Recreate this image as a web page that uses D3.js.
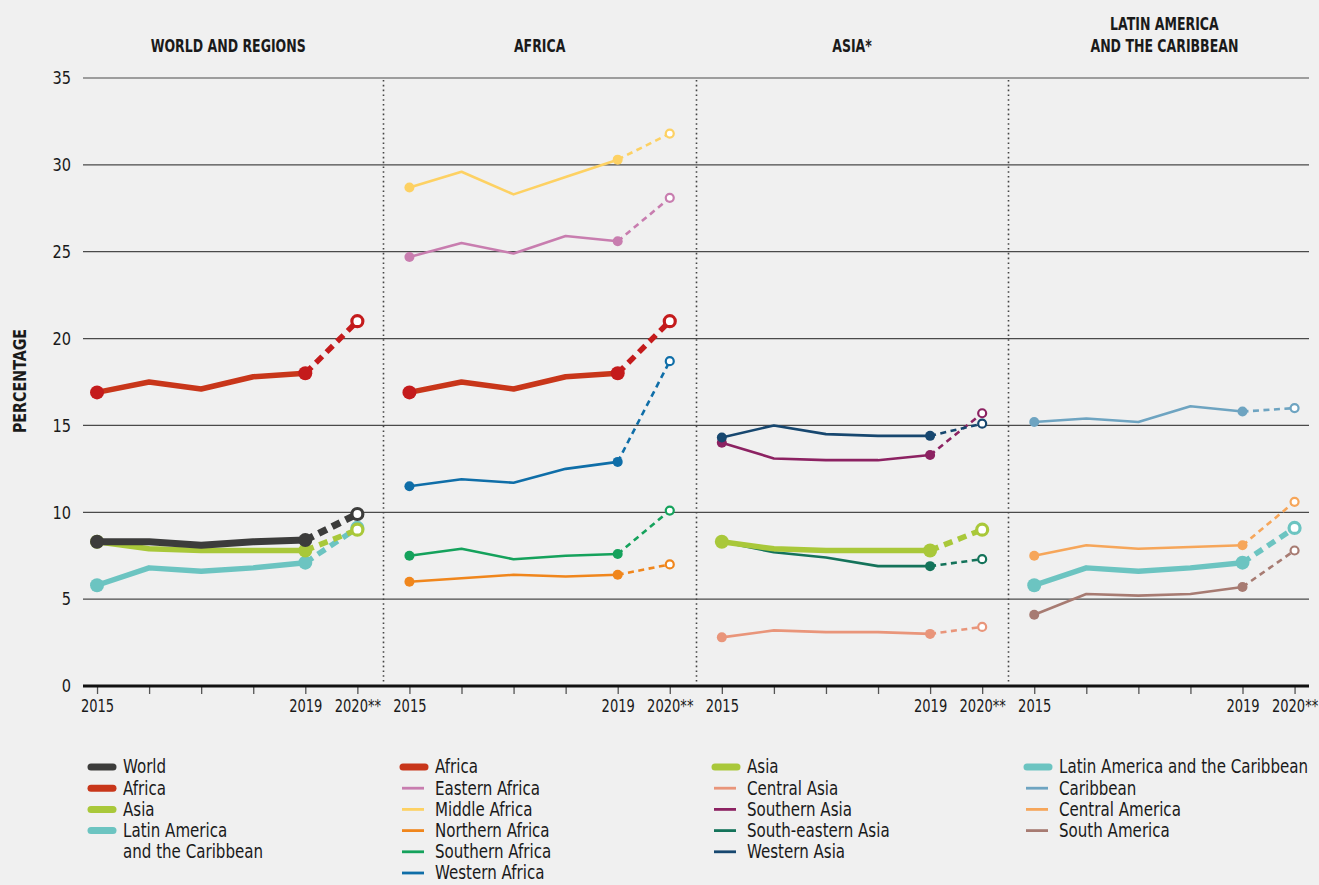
<!DOCTYPE html>
<html><head><meta charset="utf-8">
<script src="https://cdn.jsdelivr.net/npm/d3@7"></script>
<style>
html,body{margin:0;padding:0;background:#f0f0f0;}
svg{display:block;}
text{font-family:"Liberation Sans Narrow","DejaVu Sans Condensed","Arial Narrow",sans-serif;fill:#1a1a1a;}
</style></head>
<body>
<script>
// ---------- DATA ----------
const years = [2015, 2016, 2017, 2018, 2019, 2020];
const xTickLabels = ["2015", "", "", "", "2019", "2020**"];
const yTicks = [0, 5, 10, 15, 20, 25, 30, 35];
const panelTitles = [["WORLD AND REGIONS"], ["AFRICA"], ["ASIA*"], ["LATIN AMERICA", "AND THE CARIBBEAN"]];
const yAxisTitle = "PERCENTAGE";

const world          = [8.3, 8.3, 8.1, 8.3, 8.4, 9.9];
const africa         = [16.9, 17.5, 17.1, 17.8, 18.0, 21.0];
const asia           = [8.3, 7.9, 7.8, 7.8, 7.8, 9.0];
const latinAmerica   = [5.8, 6.8, 6.6, 6.8, 7.1, 9.1];

const easternAfrica  = [24.7, 25.5, 24.9, 25.9, 25.6, 28.1];
const middleAfrica   = [28.7, 29.6, 28.3, 29.3, 30.3, 31.8];
const northernAfrica = [6.0, 6.2, 6.4, 6.3, 6.4, 7.0];
const southernAfrica = [7.5, 7.9, 7.3, 7.5, 7.6, 10.1];
const westernAfrica  = [11.5, 11.9, 11.7, 12.5, 12.9, 18.7];

const centralAsia       = [2.8, 3.2, 3.1, 3.1, 3.0, 3.4];
const southernAsia      = [14.0, 13.1, 13.0, 13.0, 13.3, 15.7];
const southEasternAsia  = [8.3, 7.7, 7.4, 6.9, 6.9, 7.3];
const westernAsia       = [14.3, 15.0, 14.5, 14.4, 14.4, 15.1];

const caribbean      = [15.2, 15.4, 15.2, 16.1, 15.8, 16.0];
const centralAmerica = [7.5, 8.1, 7.9, 8.0, 8.1, 10.6];
const southAmerica   = [4.1, 5.3, 5.2, 5.3, 5.7, 7.8];

// ---------- SERIES TABLE (built from arrays) ----------
const C = {
  world:"#3c3c3b", africaLine:"#c8361a", africaDot:"#c41b1c", asia:"#a9c83a", lac:"#6cc4c1",
  eastAf:"#c87daf", midAf:"#fdd163", northAf:"#f0861c", southAf:"#15a25c", westAf:"#0f6ea8",
  cenAs:"#e9957a", southAs:"#8c2262", seAs:"#14735a", westAs:"#17476f",
  carib:"#6ea4c1", cenAm:"#f6a65a", southAm:"#a77b72"
};
const series = [
  {p:0, v:latinAmerica, line:C.lac, dot:C.lac, thick:true},
  {p:0, v:asia, line:C.asia, dot:C.asia, thick:true},
  {p:0, v:africa, line:C.africaLine, dot:C.africaDot, thick:true},
  {p:0, v:world, line:C.world, dot:C.world, thick:true, heavy:true},
  {p:1, v:middleAfrica, line:C.midAf, dot:C.midAf},
  {p:1, v:easternAfrica, line:C.eastAf, dot:C.eastAf},
  {p:1, v:northernAfrica, line:C.northAf, dot:C.northAf},
  {p:1, v:southernAfrica, line:C.southAf, dot:C.southAf},
  {p:1, v:westernAfrica, line:C.westAf, dot:C.westAf},
  {p:1, v:africa, line:C.africaLine, dot:C.africaDot, thick:true},
  {p:2, v:centralAsia, line:C.cenAs, dot:C.cenAs},
  {p:2, v:southernAsia, line:C.southAs, dot:C.southAs},
  {p:2, v:westernAsia, line:C.westAs, dot:C.westAs},
  {p:2, v:southEasternAsia, line:C.seAs, dot:C.seAs},
  {p:2, v:asia, line:C.asia, dot:C.asia, thick:true},
  {p:3, v:caribbean, line:C.carib, dot:C.carib},
  {p:3, v:centralAmerica, line:C.cenAm, dot:C.cenAm},
  {p:3, v:southAmerica, line:C.southAm, dot:C.southAm},
  {p:3, v:latinAmerica, line:C.lac, dot:C.lac, thick:true}
];
const legends = [
  [{t:["World"], c:C.world, thick:true}, {t:["Africa"], c:C.africaLine, thick:true},
   {t:["Asia"], c:C.asia, thick:true}, {t:["Latin America","and the Caribbean"], c:C.lac, thick:true}],
  [{t:["Africa"], c:C.africaLine, thick:true}, {t:["Eastern Africa"], c:C.eastAf}, {t:["Middle Africa"], c:C.midAf},
   {t:["Northern Africa"], c:C.northAf}, {t:["Southern Africa"], c:C.southAf}, {t:["Western Africa"], c:C.westAf}],
  [{t:["Asia"], c:C.asia, thick:true}, {t:["Central Asia"], c:C.cenAs}, {t:["Southern Asia"], c:C.southAs},
   {t:["South-eastern Asia"], c:C.seAs}, {t:["Western Asia"], c:C.westAs}],
  [{t:["Latin America and the Caribbean"], c:C.lac, thick:true}, {t:["Caribbean"], c:C.carib},
   {t:["Central America"], c:C.cenAm}, {t:["South America"], c:C.southAm}]
];

// ---------- LAYOUT ----------
const W = 1319, H = 885;
const svg = d3.select("body").append("svg").attr("width", W).attr("height", H);
svg.append("rect").attr("width", W).attr("height", H).attr("fill", "#f0f0f0");

// condensed text helper
function ctext(parent, x, yy, str, size, sx, opts = {}) {
  const t = parent.append("text")
    .attr("transform", `translate(${x},${yy}) ${opts.rot ? "rotate(" + opts.rot + ") " : ""}scale(${sx},1)`)
    .attr("font-size", size).attr("text-anchor", opts.anchor || "start")
    .attr("dy", opts.dy || "0.35em").text(str);
  if (opts.bold) t.attr("font-weight", "bold");
  return t;
}

const y = d3.scaleLinear().domain([0, 35]).range([686, 78]);
const panelW = 312.4, panelX0 = 71;
const xs = d3.range(4).map(p => d3.scaleLinear().domain([2014.5, 2020.5]).range([panelX0 + p*panelW, panelX0 + (p+1)*panelW]));

// gridlines
const gridX0 = 83, gridX1 = 1309;
svg.append("g").selectAll("line").data(yTicks.filter(d => d > 0)).join("line")
  .attr("x1", gridX0).attr("x2", gridX1).attr("y1", d => y(d)).attr("y2", d => y(d))
  .attr("stroke", "#4a4a4a").attr("stroke-width", 1.2);

// y tick labels
const gy = svg.append("g");
yTicks.forEach(d => ctext(gy, 71, y(d), String(d), 18, 0.9, {anchor:"end"}));

// y axis title
ctext(svg, 20, 381, yAxisTitle, 18, 0.88, {anchor:"middle", rot:-90, bold:true});

// separators
[1,2,3].forEach(p => {
  const xx = Math.round(panelX0 + p*panelW) + 0.5;
  svg.append("line").attr("x1", xx).attr("x2", xx).attr("y1", 80).attr("y2", 684)
    .attr("stroke", "#444").attr("stroke-width", 1.6).attr("stroke-dasharray", "1.6,3.2");
});

// x axes per panel
xs.forEach((x, p) => {
  const ax = d3.axisBottom(x).tickValues(years).tickSize(7).tickPadding(6)
    .tickFormat((d, i) => xTickLabels[i]);
  const g = svg.append("g").attr("transform", "translate(0,687)").call(ax);
  g.select(".domain").remove();
  g.selectAll(".tick line").attr("stroke", "#555").attr("stroke-width", 1.3);
  g.selectAll(".tick text").attr("font-size", 17.5).attr("fill", "#1a1a1a")
    .attr("transform", "scale(0.83,1)")
    .attr("font-family", "\"Liberation Sans Narrow\",\"DejaVu Sans Condensed\",sans-serif");
});
// baseline
svg.append("line").attr("x1", gridX0).attr("x2", gridX1).attr("y1", y(0)).attr("y2", y(0))
  .attr("stroke", "#111").attr("stroke-width", 3);

// panel titles
panelTitles.forEach((lines, p) => {
  const cx = panelX0 + p*panelW + panelW/2 + (p === 0 ? 1 : 0);
  const baseY = 46 - (lines.length - 1) * 22;
  lines.forEach((l, i) => ctext(svg, cx, baseY + i*22, l, 17, 0.82, {anchor:"middle", bold:true}));
});

// series
const lineGen = (x) => d3.line().x(d => x(d[0])).y(d => y(d[1]));
const gS = svg.append("g");
series.forEach(s => {
  const x = xs[s.p];
  const pts = years.map((yr, i) => [yr, s.v[i]]);
  const sw = s.heavy ? 7 : (s.thick ? 5.5 : 2.6);
  gS.append("path").attr("d", lineGen(x)(pts.slice(0, 5))).attr("fill", "none")
    .attr("stroke", s.line).attr("stroke-width", sw).attr("stroke-linejoin", "round");
  gS.append("path").attr("d", lineGen(x)(pts.slice(4, 6))).attr("fill", "none")
    .attr("stroke", s.dot).attr("stroke-width", sw)
    .attr("stroke-dasharray", s.thick ? "9,6" : "6,4.5");
  const rF = s.thick ? 7 : 5;
  [0, 4].forEach(i => gS.append("circle").attr("cx", x(pts[i][0])).attr("cy", y(pts[i][1]))
    .attr("r", rF).attr("fill", s.dot));
  gS.append("circle").attr("cx", x(pts[5][0])).attr("cy", y(pts[5][1]))
    .attr("r", s.thick ? 5.5 : 4).attr("fill", "#fff").attr("stroke", s.dot)
    .attr("stroke-width", s.thick ? 3.2 : 2.2);
});

// legend
const legX = [88, 400, 712, 1024];
const rowY0 = 767, rowStep = 21.2;
legends.forEach((items, c) => {
  let row = 0;
  items.forEach(it => {
    const yy = rowY0 + row*rowStep;
    svg.append("line").attr("x1", legX[c] + (it.thick ? 3 : 2)).attr("x2", legX[c] + (it.thick ? 25 : 24))
      .attr("y1", yy).attr("y2", yy).attr("stroke", it.c)
      .attr("stroke-width", it.thick ? 7 : 2.8).attr("stroke-linecap", it.thick ? "round" : "butt");
    it.t.forEach((tl, k) => ctext(svg, legX[c] + 35, yy + k*rowStep, tl, 19.5, 0.86, {dy:"0.33em"}));
    row += it.t.length;
  });
});
</script>
</body></html>
